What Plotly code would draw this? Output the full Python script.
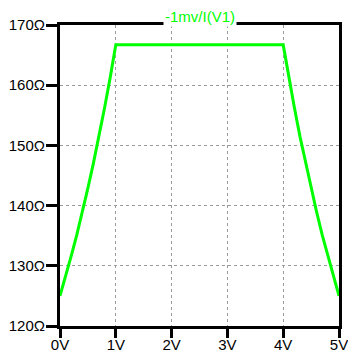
import plotly.graph_objects as go

# Sweep voltage (V) and measured resistance -1mV/I(V1) (ohms)
volts = [0.0, 0.1, 0.2, 0.3, 0.4, 0.5, 0.6, 0.7, 0.8, 0.9, 1.0,
         4.0, 4.1, 4.2, 4.3, 4.4, 4.5, 4.6, 4.7, 4.8, 4.9, 5.0]
ohms = [125.0, 128.2, 131.6, 135.1, 138.9, 142.9, 147.1, 151.5, 156.3, 161.3, 166.7,
        166.7, 161.3, 156.3, 151.5, 147.1, 142.9, 138.9, 135.1, 131.6, 128.2, 125.0]

x_ticks = [0, 1, 2, 3, 4, 5]
x_labels = ["0V", "1V", "2V", "3V", "4V", "5V"]
y_ticks = [120, 130, 140, 150, 160, 170]
y_labels = ["120Ω", "130Ω", "140Ω", "150Ω", "160Ω", "170Ω"]

trace_name = "-1mv/I(V1)"
green = "#00ff00"

fig = go.Figure()
fig.add_trace(go.Scatter(
    x=volts, y=ohms, mode="lines",
    line=dict(color=green, width=3),
    name=trace_name, showlegend=False, hoverinfo="skip",
))

font = dict(family="Liberation Sans, Arial, sans-serif", size=15, color="black")

axis_common = dict(
    showline=True, linecolor="black", linewidth=3, mirror=True,
    showgrid=True, gridcolor="#9a9a9a", gridwidth=1, griddash="3px,3px",
    ticks="outside", tickcolor="black", tickwidth=3,
    zeroline=False, tickfont=font, fixedrange=True, automargin=False,
    ticklabeloverflow="allow",
)

fig.update_xaxes(
    range=[0, 5], tickvals=x_ticks, ticktext=x_labels, ticklen=9,
    ticklabelstandoff=-6, **axis_common,
)
fig.update_yaxes(
    range=[120, 170], tickvals=y_ticks, ticktext=y_labels, ticklen=11,
    ticklabelstandoff=-2, **axis_common,
)

fig.add_annotation(
    text=trace_name, xref="paper", yref="paper", x=0.5, y=1,
    yanchor="middle", xanchor="center", yshift=9, showarrow=False,
    font=dict(family="Liberation Sans, Arial, sans-serif", size=15, color=green),
    bgcolor="white", borderpad=1,
)

fig.update_layout(
    width=348, height=353,
    margin=dict(l=60, r=9, t=25, b=27),
    paper_bgcolor="white", plot_bgcolor="white",
)

fig.write_html("out.html")
